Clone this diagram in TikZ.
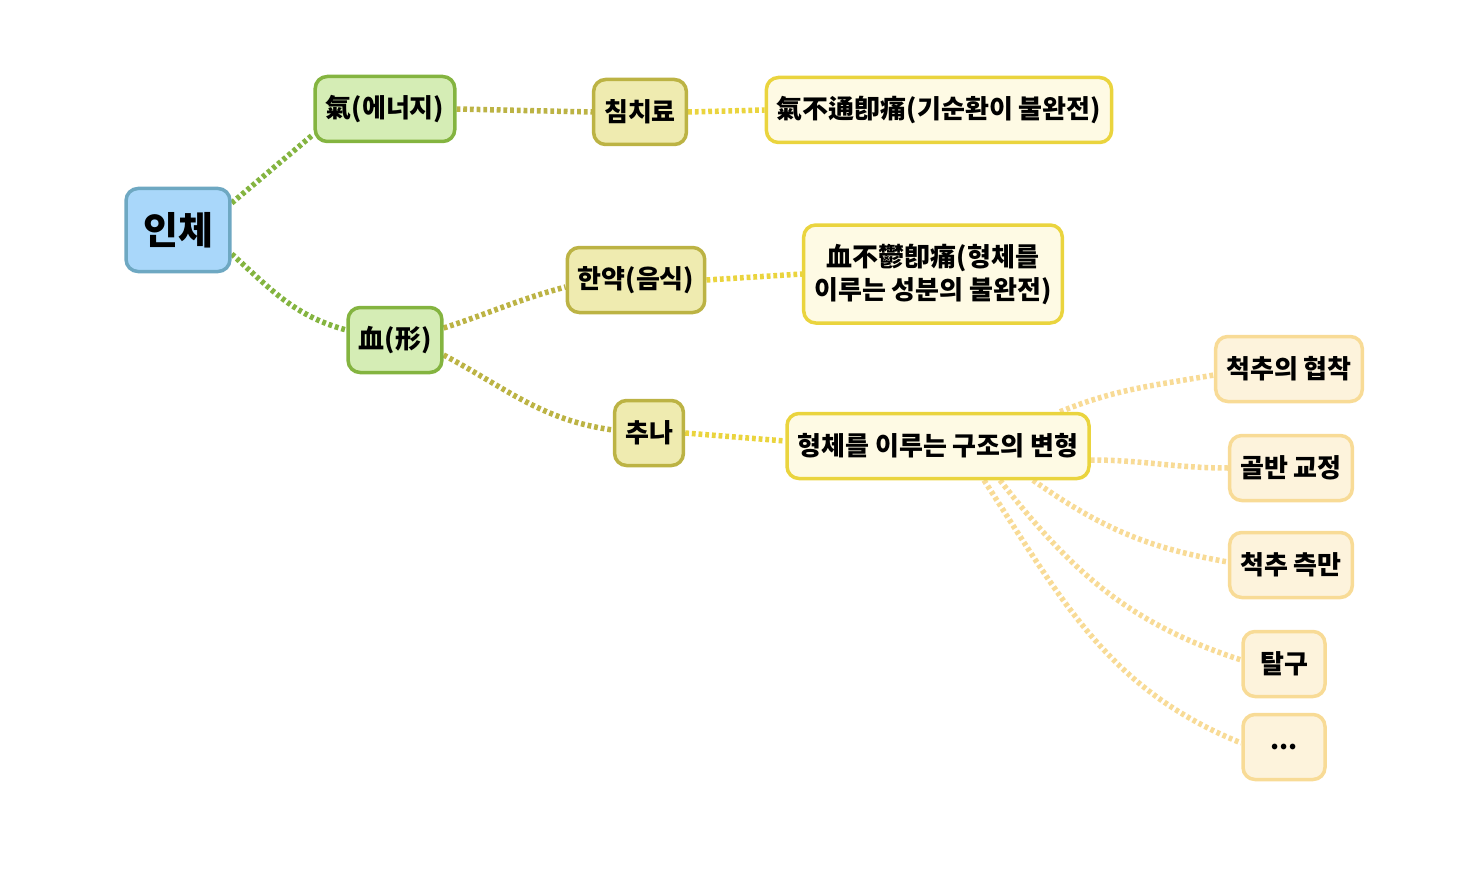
\documentclass[tikz,border=0pt]{standalone}
\usepackage{fontspec}
\setmainfont{Noto Sans CJK KR}
\usetikzlibrary{backgrounds}
\definecolor{rootfill}{HTML}{A9D7FA}
\definecolor{rootline}{HTML}{6EA8C2}
\definecolor{greenfill}{HTML}{D5EDB5}
\definecolor{greenline}{HTML}{84B440}
\definecolor{olivefill}{HTML}{EFEBB0}
\definecolor{oliveline}{HTML}{BCB344}
\definecolor{yellowfill}{HTML}{FEFAE4}
\definecolor{yellowline}{HTML}{EAD43E}
\definecolor{leaffill}{HTML}{FDF3DC}
\definecolor{leafline}{HTML}{F8DB96}
\begin{document}
\begin{tikzpicture}[x=1pt,y=-1pt,
    box/.style={draw,rounded corners=12pt,line width=3.5pt,minimum height=65pt,inner xsep=10.5pt,
      align=center,font=\fontsize{26}{33}\selectfont\bfseries},
    rootbox/.style={box,fill=rootfill,draw=rootline,minimum height=83pt,inner xsep=17pt,
      font=\fontsize{38}{40}\selectfont\bfseries},
    lvone/.style={box,fill=greenfill,draw=greenline},
    lvtwo/.style={box,fill=olivefill,draw=oliveline},
    lvthree/.style={box,fill=yellowfill,draw=yellowline},
    lvfour/.style={box,fill=leaffill,draw=leafline,minimum width=82pt},
    link/.style={line width=5.5pt,dash pattern=on 3.8pt off 2.9pt}]
  \useasboundingbox (0,0) rectangle (1460,888);
  \node[rootbox] (body) at (178,230) {인체};
  \node[lvone] (qi) at (385,109) {氣(에너지)};
  \node[lvone] (blood) at (395,340) {血(形)};
  \node[lvtwo] (acu) at (640,112) {침치료};
  \node[lvtwo] (herb) at (636,280) {한약(음식)};
  \node[lvtwo] (chuna) at (649,433) {추나};
  \node[lvthree] (qipain) at (939,110) {氣不通卽痛(기순환이 불완전)};
  \node[lvthree,minimum height=98pt] (bloodpain) at (933,274) {血不鬱卽痛(형체를\\이루는 성분의 불완전)};
  \node[lvthree] (deform) at (938,446) {형체를 이루는 구조의 변형};
  \node[lvfour] (stenosis) at (1289,369) {척추의 협착};
  \node[lvfour] (pelvis) at (1291,468) {골반 교정};
  \node[lvfour] (scoliosis) at (1291,565) {척추 측만};
  \node[lvfour] (disloc) at (1284,664) {탈구};
  \node[lvfour] (etc) at (1284,747) {...};
  \begin{scope}[on background layer]
    \draw[link,greenline] ([yshift=27pt]body.east) -- ([yshift=9pt]qi.south west);
    \draw[link,greenline] ([yshift=-24pt]body.east) to[out=-42,in=165] ([yshift=10pt]blood.west);
    \draw[link,oliveline] (qi.east) -- (acu.west);
    \draw[link,oliveline] ([yshift=12pt]blood.east) to[out=18,in=195] ([yshift=-7pt]herb.west);
    \draw[link,oliveline] ([yshift=-15pt]blood.east) to[out=-28,in=172] ([yshift=3pt]chuna.west);
    \draw[link,yellowline] (acu.east) -- (qipain.west);
    \draw[link,yellowline] (herb.east) -- (bloodpain.west);
    \draw[link,yellowline] (chuna.east) -- ([yshift=5pt]deform.west);
    \draw[link,leafline] ([xshift=122pt]deform.north) to[out=22,in=190] ([yshift=-6pt]stenosis.west);
    \draw[link,leafline] ([yshift=-14pt]deform.east) to[out=0,in=180] (pelvis.west);
    \draw[link,leafline] ([xshift=95pt]deform.south) to[out=-35,in=170] ([yshift=3pt]scoliosis.west);
    \draw[link,leafline] ([xshift=62pt]deform.south) to[out=-52,in=162] ([yshift=4pt]disloc.west);
    \draw[link,leafline] ([xshift=46pt]deform.south) to[out=-57,in=158] ([yshift=4pt]etc.west);
  \end{scope}
\end{tikzpicture}
\end{document}
